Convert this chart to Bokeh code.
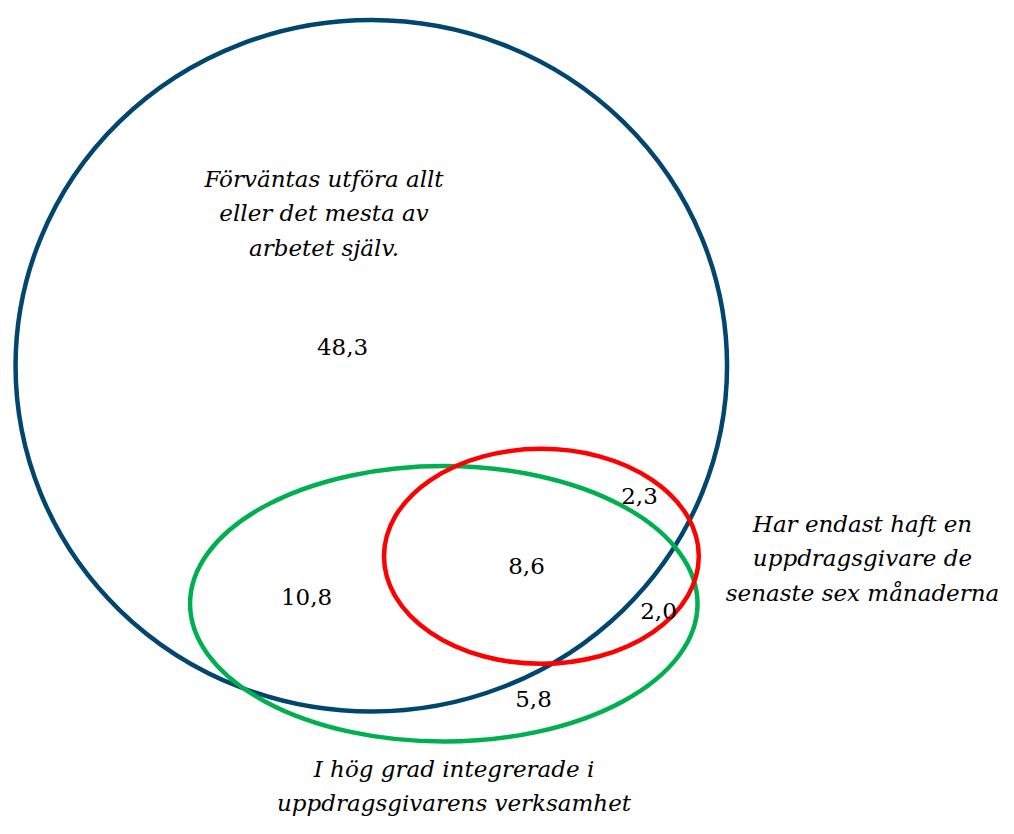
from bokeh.plotting import figure
from bokeh.models import ColumnDataSource, Range1d
from bokeh.core.properties import value
from bokeh.embed import file_html
from bokeh.resources import INLINE

# ---- data ----
set_names = ["Förväntas utföra allt eller det mesta av arbetet själv",
             "I hög grad integrerade i uppdragsgivarens verksamhet",
             "Har endast haft en uppdragsgivare de senaste sex månaderna"]
region_values = ["48,3", "10,8", "8,6", "2,3", "2,0", "5,8"]

# ---- layout (pixel coordinates of the picture) ----
set_cx = [370.8, 443.3, 540.9]
set_cy = [365.3, 603.3, 555.8]
set_w = [711.5, 507.5, 314.8]
set_h = [691.5, 275.5, 215.0]
set_colors = ["#00466E", "#00B050", "#FF0000"]

region_x = [342, 306, 526, 639, 658, 533]
region_y = [346, 596, 565, 495, 610, 698]

label_lines = [
    ["Förväntas utföra allt", "eller det mesta av", "arbetet själv."],
    ["I hög grad integrerade i", "uppdragsgivarens verksamhet"],
    ["Har endast haft en", "uppdragsgivare de", "senaste sex månaderna"],
]
label_x = [323.5, 453.5, 862]
label_y0 = [178, 768, 523]
line_step = 34.5

W, H = 998, 818
p = figure(width=W, height=H, output_backend="svg", toolbar_location=None,
           x_range=Range1d(0, W), y_range=Range1d(H, 0),
           min_border=0, background_fill_color="white")
p.axis.visible = False
p.grid.visible = False
p.outline_line_color = None

src = ColumnDataSource(dict(x=set_cx, y=set_cy, w=set_w, h=set_h, c=set_colors))
p.ellipse(x="x", y="y", width="w", height="h", source=src,
          fill_color=None, line_color="c", line_width=4.5)

p.text(x=region_x, y=region_y, text=region_values,
       text_font=value("DejaVu Serif"), text_font_size="23px",
       text_align="center", text_baseline="middle", text_color="black")

lx, ly, lt = [], [], []
for lines, x0, y0 in zip(label_lines, label_x, label_y0):
    for i, t in enumerate(lines):
        lx.append(x0)
        ly.append(y0 + i * line_step)
        lt.append(t)
p.text(x=lx, y=ly, text=lt, text_font=value("DejaVu Serif"),
       text_font_style="italic", text_font_size="23px",
       text_align="center", text_baseline="middle", text_color="black")

open("out.html", "w").write(file_html(p, INLINE))
